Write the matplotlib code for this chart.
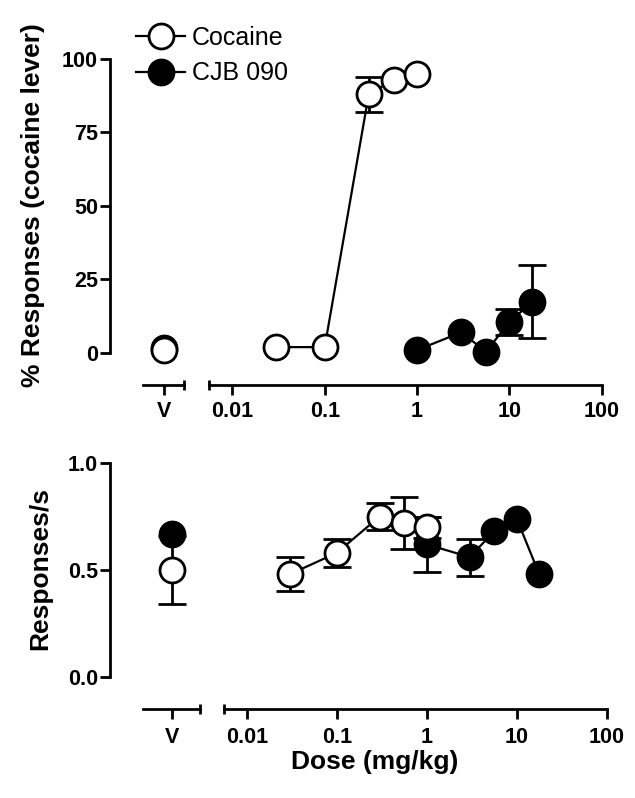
import matplotlib
matplotlib.use('Agg')
import matplotlib.pyplot as plt
from matplotlib.ticker import FixedLocator, FixedFormatter, NullFormatter

plt.rcParams['font.family'] = ['Liberation Sans', 'DejaVu Sans']

W, H = 635, 798
PT = 0.72  # points per pixel at dpi 100
nan = float('nan')

# ---------------- data ----------------
dose_ticks = [0.01, 0.1, 1, 10, 100]
dose_tick_labels = ['0.01', '0.1', '1', '10', '100']
pct_ticks = [0, 25, 50, 75, 100]
rate_ticks = [0.0, 0.5, 1.0]
rate_tick_labels = ['0.0', '0.5', '1.0']

series_names = ['Cocaine', 'CJB 090']

coc_dose = [0.03, 0.1, 0.3, 0.56, 1.0]
coc_pct = [2, 2, 88, 93, 95]
coc_pct_err = [nan, nan, 6, nan, nan]
coc_pct_veh = [1]
coc_pct_veh_err = [nan]

cjb_dose = [1.0, 3.0, 5.6, 10, 17.8]
cjb_pct = [1, 7, 0.5, 10.5, 17.5]
cjb_pct_err = [nan, nan, nan, 4.5, 12.5]
cjb_pct_veh = [1.7]
cjb_pct_veh_err = [nan]

coc_rate = [0.48, 0.58, 0.75, 0.72, 0.70]
coc_rate_err = [0.08, 0.065, 0.065, 0.12, 0.05]
coc_rate_veh = [0.50]
coc_rate_veh_err = [0.16]

cjb_rate = [0.62, 0.56, 0.68, 0.74, 0.48]
cjb_rate_err = [0.13, 0.087, nan, nan, nan]
cjb_rate_veh = [0.67]
cjb_rate_veh_err = [nan]

veh_x = [0]

# ---------------- figure ----------------
fig = plt.figure(figsize=(W / 100, H / 100), dpi=100)
fig.patch.set_facecolor('white')


def px_axes(x0, y0, x1, y1):
    ax = fig.add_axes([x0 / W, 1 - y1 / H, (x1 - x0) / W, (y1 - y0) / H])
    ax.set_facecolor('none')
    return ax


TICK_FS = 15.5
LW = 2.0


def style_main(ax, xleft, drop_px, pad):
    ax.set_xscale('log')
    ax.set_xlim(xleft, 100)
    for s in ['left', 'top', 'right']:
        ax.spines[s].set_visible(False)
    ax.spines['bottom'].set_position(('outward', drop_px * PT))
    ax.spines['bottom'].set_linewidth(LW)
    ax.tick_params(axis='y', left=False, labelleft=False)
    ax.xaxis.set_major_locator(FixedLocator(dose_ticks))
    ax.xaxis.set_major_formatter(FixedFormatter(dose_tick_labels))
    ax.xaxis.set_minor_locator(FixedLocator([xleft]))
    ax.xaxis.set_minor_formatter(NullFormatter())
    ax.tick_params(axis='x', which='major', direction='out', length=10 * PT,
                   width=LW, labelsize=TICK_FS, pad=pad)
    ax.tick_params(axis='x', which='minor', direction='inout', length=10 * PT,
                   width=LW)
    for lab in ax.get_xticklabels():
        lab.set_fontweight('bold')


def style_veh(ax, xlim, drop_px, left_px, yticks, ylabels, pad):
    ax.set_xlim(*xlim)
    for s in ['top', 'right']:
        ax.spines[s].set_visible(False)
    ax.spines['bottom'].set_position(('outward', drop_px * PT))
    ax.spines['left'].set_position(('outward', left_px * PT))
    ax.spines['bottom'].set_linewidth(LW)
    ax.spines['left'].set_linewidth(LW)
    ax.xaxis.set_major_locator(FixedLocator(veh_x))
    ax.xaxis.set_major_formatter(FixedFormatter(['V']))
    ax.xaxis.set_minor_locator(FixedLocator([xlim[1]]))
    ax.xaxis.set_minor_formatter(NullFormatter())
    ax.tick_params(axis='x', which='major', direction='out', length=10 * PT,
                   width=LW, labelsize=TICK_FS, pad=pad)
    ax.tick_params(axis='x', which='minor', direction='inout', length=10 * PT,
                   width=LW)
    ax.yaxis.set_major_locator(FixedLocator(yticks))
    ax.yaxis.set_major_formatter(FixedFormatter(ylabels))
    ax.tick_params(axis='y', direction='out', length=10 * PT, width=LW,
                   labelsize=TICK_FS, pad=1.5)
    for lab in ax.get_xticklabels() + ax.get_yticklabels():
        lab.set_fontweight('bold')


MS = 18
MEW = 2
style_kw = dict(fmt='o-', color='black', mec='black', ms=MS, mew=MEW, lw=1.6,
                capsize=10, capthick=LW, elinewidth=LW, clip_on=False)

# ---------------- top panel ----------------
top_main = px_axes(209, 59, 601.7, 353)
top_veh = px_axes(143.3, 59, 184.3, 353)
for ax in (top_main, top_veh):
    ax.set_ylim(0, 100)

cjb_c = top_main.errorbar(cjb_dose, cjb_pct, yerr=cjb_pct_err, mfc='black',
                          zorder=3, **style_kw)
coc_c = top_main.errorbar(coc_dose, coc_pct, yerr=coc_pct_err, mfc='white',
                          zorder=4, **style_kw)
top_veh.errorbar(veh_x, cjb_pct_veh, yerr=cjb_pct_veh_err, mfc='black',
                 zorder=3, **style_kw)
top_veh.errorbar(veh_x, coc_pct_veh, yerr=coc_pct_veh_err, mfc='white',
                 zorder=4, **style_kw)

style_main(top_main, 10 ** -2.253, 32, 4)
style_veh(top_veh, (-1.0, 0.953), 32, 33.3, pct_ticks,
          [str(t) for t in pct_ticks], 4)

fig.text(33 / W, 1 - 205 / H, '% Responses (cocaine lever)', rotation=90,
         ha='center', va='center', fontsize=19, fontweight='bold')

fig.legend([coc_c[0], cjb_c[0]], series_names, loc='upper left',
           bbox_to_anchor=(136 / W, 1 - 26 / H), frameon=False, fontsize=18,
           handlelength=1.96, handletextpad=0.27, borderpad=0,
           borderaxespad=0, labelspacing=0.45, numpoints=1)

# ---------------- bottom panel ----------------
bot_main = px_axes(224.3, 463, 606.7, 677)
bot_veh = px_axes(143.3, 463, 200, 677)
for ax in (bot_main, bot_veh):
    ax.set_ylim(0, 1)

bot_main.errorbar(cjb_dose, cjb_rate, yerr=cjb_rate_err, mfc='black',
                  zorder=3, **style_kw)
bot_main.errorbar(coc_dose, coc_rate, yerr=coc_rate_err, mfc='white',
                  zorder=4, **style_kw)
bot_veh.errorbar(veh_x, cjb_rate_veh, yerr=cjb_rate_veh_err, mfc='black',
                 zorder=3, **style_kw)
bot_veh.errorbar(veh_x, coc_rate_veh, yerr=coc_rate_veh_err, mfc='white',
                 zorder=4, **style_kw)

style_main(bot_main, 10 ** -2.25, 32, 6)
style_veh(bot_veh, (-1.0, 1.0), 32, 33.3, rate_ticks, rate_tick_labels, 6)

fig.text(40.5 / W, 1 - 568 / H, 'Responses/s', rotation=90,
         ha='center', va='center', fontsize=19, fontweight='bold')
fig.text(375 / W, 1 - 762 / H, 'Dose (mg/kg)', ha='center', va='center',
         fontsize=19, fontweight='bold')

fig.savefig('out.png', dpi=100, facecolor='white')
